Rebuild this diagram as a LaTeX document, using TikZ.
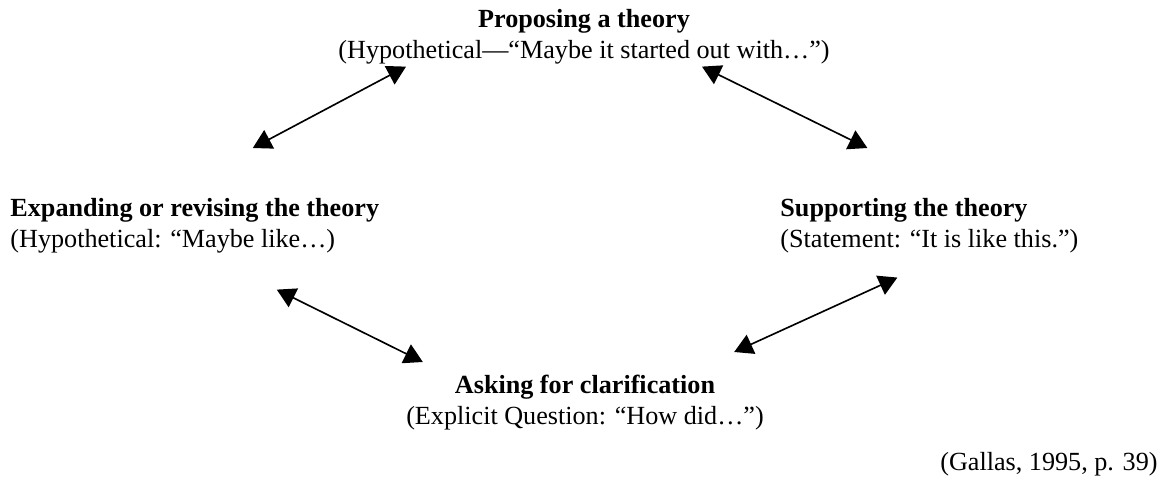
\documentclass[tikz,border=0pt]{standalone}
\usepackage{fontspec}
\setmainfont{Liberation Serif}
\usetikzlibrary{arrows.meta}
\usetikzlibrary{calc}
\tikzstyle{StageNode}=[inner sep=0pt, font=\fontsize{12}{14.2}\selectfont]
\tikzstyle{MidStageNode}=[StageNode, align=center, anchor=north]
\tikzstyle{SideStageNode}=[StageNode, align=left, anchor=north west]
\tikzstyle{SourceNode}=[StageNode, anchor=north east]
\tikzstyle{TwoWayEdge}=[{Triangle[length=8.5pt,width=9.5pt]}-{Triangle[length=8.5pt,width=9.5pt]}, line width=0.75pt]

\begin{document}
\begin{tikzpicture}[x=0.4587pt, y=-0.4587pt]
\useasboundingbox (0,0) rectangle (1168,483);

\node[MidStageNode](Prop) at (584,9) {\textbf{Proposing a theory}\\(Hypothetical—“Maybe it started out with…")};
\node[SideStageNode](Expand) at (10,198) {\textbf{Expanding or revising the theory}\\(Hypothetical: “Maybe like…)};
\node[SideStageNode](Support) at (780,198) {\textbf{Supporting the theory}\\(Statement: “It is like this.")};
\node[MidStageNode](Ask) at (585,375) {\textbf{Asking for clarification}\\(Explicit Question: “How did…")};
\node[SourceNode](Cite) at (1158,452) {(Gallas, 1995, p. 39)};

\draw[TwoWayEdge]($(Prop.south west)+(68,2)$) -- ($(Expand.north)+(58,-50)$);
\draw[TwoWayEdge]($(Prop.south east)+(-128,2)$) -- ($(Support.north)+(-62,-50)$);
\draw[TwoWayEdge]($(Expand.south)+(82,36)$) -- ($(Ask.north west)+(17,-13)$);
\draw[TwoWayEdge]($(Support.south)+(-32,24)$) -- ($(Ask.north east)+(-30,-23)$);
\end{tikzpicture}
\end{document}
